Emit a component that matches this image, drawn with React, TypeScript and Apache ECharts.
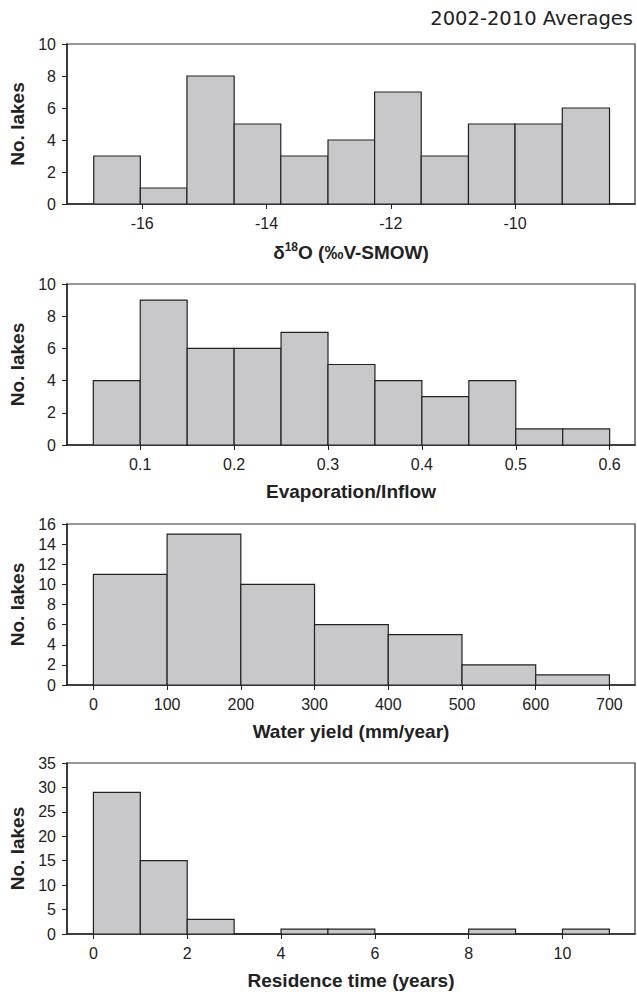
import React, { useEffect, useRef } from "react";
import * as echarts from "echarts";

// Panel 1: delta 18O histogram
const d18OEdges = [-16.78, -16.03, -15.28, -14.52, -13.77, -13.01, -12.26, -11.51, -10.75, -10.0, -9.24, -8.48];
const d18OCounts = [3, 1, 8, 5, 3, 4, 7, 3, 5, 5, 6];
const d18OTicks = [-16, -14, -12, -10];

// Panel 2: Evaporation/Inflow
const eiEdges = [0.05, 0.1, 0.15, 0.2, 0.25, 0.3, 0.35, 0.4, 0.45, 0.5, 0.55, 0.6];
const eiCounts = [4, 9, 6, 6, 7, 5, 4, 3, 4, 1, 1];
const eiTicks = [0.1, 0.2, 0.3, 0.4, 0.5, 0.6];

// Panel 3: Water yield
const wyEdges = [0, 100, 200, 300, 400, 500, 600, 700];
const wyCounts = [11, 15, 10, 6, 5, 2, 1];
const wyTicks = [0, 100, 200, 300, 400, 500, 600, 700];

// Panel 4: Residence time
const rtEdges = [0, 1, 2, 3, 4, 5, 6, 7, 8, 9, 10, 11];
const rtCounts = [29, 15, 3, 0, 1, 1, 0, 0, 1, 0, 1];
const rtTicks = [0, 2, 4, 6, 8, 10];

const titleText = "2002-2010 Averages";
const yName = "No. lakes";

const SANS = "'Liberation Sans', Arial, Helvetica, sans-serif";
const WIDE = "'DejaVu Sans', 'Liberation Sans', Arial, sans-serif";
const INK = "#222";

function bins(edges: number[], counts: number[]) {
  return counts.map((c, i) => [edges[i], edges[i + 1], c]);
}

export default function App() {
  const ref = useRef<HTMLDivElement>(null);
  useEffect(() => {
    if (!ref.current) return;
    const chart = echarts.init(ref.current, undefined, { renderer: "svg" });

    const grids = [
      { left: 67, top: 44, width: 568, height: 160 },
      { left: 67, top: 284, width: 568, height: 161 },
      { left: 67, top: 524, width: 568, height: 161 },
      { left: 67, top: 763, width: 568, height: 171 },
    ].map((g) => ({ ...g, show: true, borderColor: "#333", borderWidth: 1.2, backgroundColor: "transparent" }));

    const xNameStyle = { fontFamily: SANS, fontSize: 19, fontWeight: "bold" as const, color: INK };
    const yNameStyle = { fontFamily: SANS, fontSize: 19, fontWeight: "bold" as const, color: INK };

    const xCfg = [
      { min: -17.21, max: -8.07, ticks: d18OTicks, name: "{b|δ}{s|18}{b|O (‰V-SMOW)}", fmt: (v: number) => String(v) },
      { min: 0.022, max: 0.627, ticks: eiTicks, name: "Evaporation/Inflow", fmt: (v: number) => v.toFixed(1) },
      { min: -35.8, max: 734.7, ticks: wyTicks, name: "Water yield (mm/year)", fmt: (v: number) => String(v) },
      { min: -0.563, max: 11.546, ticks: rtTicks, name: "Residence time (years)", fmt: (v: number) => String(v) },
    ];
    const yCfg = [
      { max: 10, interval: 2 },
      { max: 10, interval: 2 },
      { max: 16, interval: 2 },
      { max: 35, interval: 5 },
    ];

    const xAxis = xCfg.map((c, i) => ({
      type: "value",
      gridIndex: i,
      min: c.min,
      max: c.max,
      name: c.name,
      nameLocation: "middle",
      nameGap: 37,
      nameTextStyle: {
        ...xNameStyle,
        rich: {
          b: { ...xNameStyle, lineHeight: 23 },
          s: { fontFamily: SANS, fontSize: 12, fontWeight: "bold", color: INK, lineHeight: 23, verticalAlign: "top" },
        },
      },
      splitLine: { show: false },
      axisLine: { show: true, onZero: false, lineStyle: { color: INK, width: 1.5 } },
      axisTick: { show: true, customValues: c.ticks, length: 5, lineStyle: { color: INK, width: 1 } },
      axisLabel: {
        customValues: c.ticks,
        formatter: c.fmt,
        margin: 11,
        fontFamily: SANS,
        fontSize: 16,
        color: INK,
      },
    }));

    const yAxis = yCfg.map((c, i) => ({
      type: "value",
      gridIndex: i,
      min: 0,
      max: c.max,
      interval: c.interval,
      name: yName,
      nameLocation: "middle",
      nameGap: 27,
      nameRotate: 90,
      nameTextStyle: yNameStyle,
      splitLine: { show: false },
      axisLine: { show: true, onZero: false, lineStyle: { color: INK, width: 1.5 } },
      axisTick: { show: true, length: 5, lineStyle: { color: INK, width: 1 } },
      axisLabel: { margin: 11, fontFamily: SANS, fontSize: 16, color: INK },
    }));

    const datasets = [
      bins(d18OEdges, d18OCounts),
      bins(eiEdges, eiCounts),
      bins(wyEdges, wyCounts),
      bins(rtEdges, rtCounts),
    ];

    const series = datasets.map((data, i) => ({
      type: "custom",
      xAxisIndex: i,
      yAxisIndex: i,
      data,
      encode: { x: [0, 1], y: 2 },
      renderItem: (_params: any, api: any) => {
        const x0 = api.value(0);
        const x1 = api.value(1);
        const c = api.value(2);
        const p0 = api.coord([x0, c]);
        const p1 = api.coord([x1, 0]);
        return {
          type: "rect",
          shape: { x: p0[0], y: p0[1], width: p1[0] - p0[0], height: p1[1] - p0[1] },
          style: { fill: "#c8c8ca", stroke: INK, lineWidth: 1.2 },
        };
      },
    }));

    chart.setOption({
      animation: false,
      backgroundColor: "#fff",
      title: {
        text: titleText,
        right: 4,
        top: 8,
        padding: 0,
        textStyle: { fontFamily: WIDE, fontSize: 19.5, fontWeight: "normal", color: INK },
      },
      grid: grids,
      xAxis,
      yAxis,
      series,
    });

    return () => chart.dispose();
  }, []);

  return (
    <div
      ref={ref}
      style={{ position: "fixed", left: 0, top: 0, width: 637, height: 992, background: "#fff" }}
    />
  );
}
